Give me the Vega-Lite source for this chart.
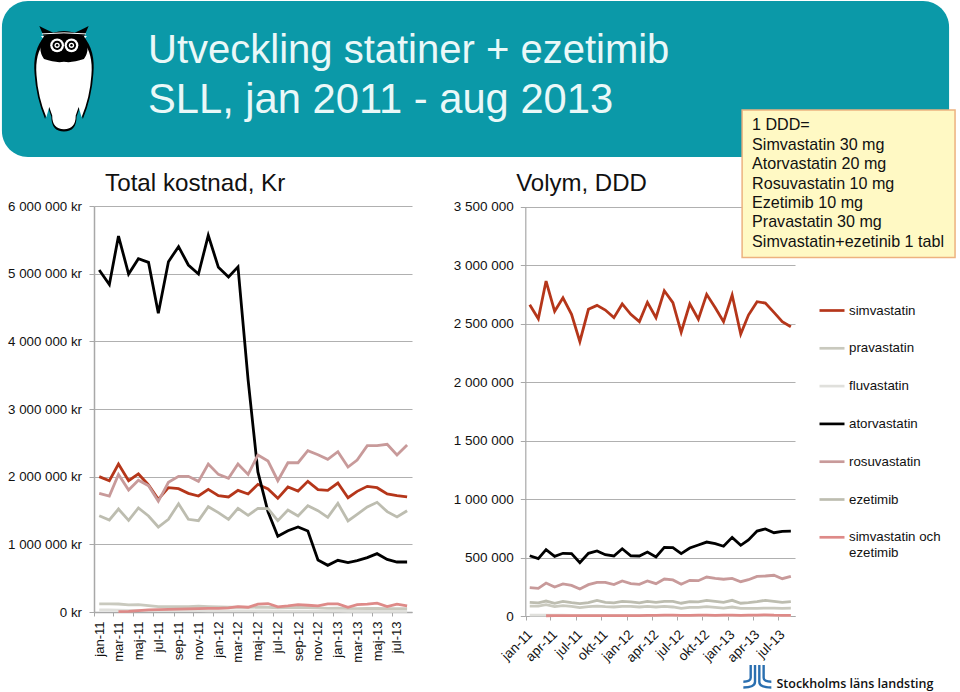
{"$schema":"https://vega.github.io/schema/vega-lite/v6.json","width":960,"height":692,"padding":0,"autosize":{"type":"none"},"background":"white",
"config":{"view":{"stroke":null},"font":"Liberation Sans"},
"title":{"text":"Utveckling statiner + ezetimib","subtitle":"SLL, jan 2011 - aug 2013","anchor":"start","frame":"group","align":"left","baseline":"top","dx":148,"dy":122,"offset":0,"fontSize":40,"fontWeight":"normal","color":"#EAF8F8","lineHeight":49,"font":"Liberation Sans","subtitleFont":"Liberation Sans","subtitleFontSize":41.7,"subtitleColor":"#EAF8F8","subtitleLineHeight":49,"subtitlePadding":9},
"datasets":{
"left":[
{"d":"2011-01-01","s":"simvastatin","v":2000000},{"d":"2011-02-01","s":"simvastatin","v":1940000},{"d":"2011-03-01","s":"simvastatin","v":2187000},{"d":"2011-04-01","s":"simvastatin","v":1940000},{"d":"2011-05-01","s":"simvastatin","v":2040000},{"d":"2011-06-01","s":"simvastatin","v":1877000},{"d":"2011-07-01","s":"simvastatin","v":1665000},{"d":"2011-08-01","s":"simvastatin","v":1837000},{"d":"2011-09-01","s":"simvastatin","v":1822000},{"d":"2011-10-01","s":"simvastatin","v":1754000},{"d":"2011-11-01","s":"simvastatin","v":1714000},{"d":"2011-12-01","s":"simvastatin","v":1813000},{"d":"2012-01-01","s":"simvastatin","v":1720000},{"d":"2012-02-01","s":"simvastatin","v":1700000},{"d":"2012-03-01","s":"simvastatin","v":1798000},{"d":"2012-04-01","s":"simvastatin","v":1744000},{"d":"2012-05-01","s":"simvastatin","v":1887000},{"d":"2012-06-01","s":"simvastatin","v":1818000},{"d":"2012-07-01","s":"simvastatin","v":1680000},{"d":"2012-08-01","s":"simvastatin","v":1847000},{"d":"2012-09-01","s":"simvastatin","v":1788000},{"d":"2012-10-01","s":"simvastatin","v":1931000},{"d":"2012-11-01","s":"simvastatin","v":1808000},{"d":"2012-12-01","s":"simvastatin","v":1798000},{"d":"2013-01-01","s":"simvastatin","v":1906000},{"d":"2013-02-01","s":"simvastatin","v":1689000},{"d":"2013-03-01","s":"simvastatin","v":1783000},{"d":"2013-04-01","s":"simvastatin","v":1857000},{"d":"2013-05-01","s":"simvastatin","v":1837000},{"d":"2013-06-01","s":"simvastatin","v":1744000},{"d":"2013-07-01","s":"simvastatin","v":1720000},{"d":"2013-08-01","s":"simvastatin","v":1700000},
{"d":"2011-01-01","s":"pravastatin","v":120000},{"d":"2011-02-01","s":"pravastatin","v":120000},{"d":"2011-03-01","s":"pravastatin","v":118000},{"d":"2011-04-01","s":"pravastatin","v":105000},{"d":"2011-05-01","s":"pravastatin","v":110000},{"d":"2011-06-01","s":"pravastatin","v":95000},{"d":"2011-07-01","s":"pravastatin","v":80000},{"d":"2011-08-01","s":"pravastatin","v":78000},{"d":"2011-09-01","s":"pravastatin","v":80000},{"d":"2011-10-01","s":"pravastatin","v":78000},{"d":"2011-11-01","s":"pravastatin","v":85000},{"d":"2011-12-01","s":"pravastatin","v":80000},{"d":"2012-01-01","s":"pravastatin","v":75000},{"d":"2012-02-01","s":"pravastatin","v":70000},{"d":"2012-03-01","s":"pravastatin","v":72000},{"d":"2012-04-01","s":"pravastatin","v":68000},{"d":"2012-05-01","s":"pravastatin","v":72000},{"d":"2012-06-01","s":"pravastatin","v":70000},{"d":"2012-07-01","s":"pravastatin","v":60000},{"d":"2012-08-01","s":"pravastatin","v":65000},{"d":"2012-09-01","s":"pravastatin","v":68000},{"d":"2012-10-01","s":"pravastatin","v":65000},{"d":"2012-11-01","s":"pravastatin","v":60000},{"d":"2012-12-01","s":"pravastatin","v":55000},{"d":"2013-01-01","s":"pravastatin","v":58000},{"d":"2013-02-01","s":"pravastatin","v":52000},{"d":"2013-03-01","s":"pravastatin","v":50000},{"d":"2013-04-01","s":"pravastatin","v":55000},{"d":"2013-05-01","s":"pravastatin","v":52000},{"d":"2013-06-01","s":"pravastatin","v":48000},{"d":"2013-07-01","s":"pravastatin","v":50000},{"d":"2013-08-01","s":"pravastatin","v":48000},
{"d":"2011-01-01","s":"fluvastatin","v":30000},{"d":"2011-02-01","s":"fluvastatin","v":30000},{"d":"2011-03-01","s":"fluvastatin","v":28000},{"d":"2011-04-01","s":"fluvastatin","v":25000},{"d":"2011-05-01","s":"fluvastatin","v":25000},{"d":"2011-06-01","s":"fluvastatin","v":22000},{"d":"2011-07-01","s":"fluvastatin","v":20000},{"d":"2011-08-01","s":"fluvastatin","v":20000},{"d":"2011-09-01","s":"fluvastatin","v":20000},{"d":"2011-10-01","s":"fluvastatin","v":20000},{"d":"2011-11-01","s":"fluvastatin","v":20000},{"d":"2011-12-01","s":"fluvastatin","v":18000},{"d":"2012-01-01","s":"fluvastatin","v":18000},{"d":"2012-02-01","s":"fluvastatin","v":18000},{"d":"2012-03-01","s":"fluvastatin","v":16000},{"d":"2012-04-01","s":"fluvastatin","v":16000},{"d":"2012-05-01","s":"fluvastatin","v":15000},{"d":"2012-06-01","s":"fluvastatin","v":15000},{"d":"2012-07-01","s":"fluvastatin","v":14000},{"d":"2012-08-01","s":"fluvastatin","v":14000},{"d":"2012-09-01","s":"fluvastatin","v":14000},{"d":"2012-10-01","s":"fluvastatin","v":13000},{"d":"2012-11-01","s":"fluvastatin","v":13000},{"d":"2012-12-01","s":"fluvastatin","v":12000},{"d":"2013-01-01","s":"fluvastatin","v":12000},{"d":"2013-02-01","s":"fluvastatin","v":11000},{"d":"2013-03-01","s":"fluvastatin","v":11000},{"d":"2013-04-01","s":"fluvastatin","v":10000},{"d":"2013-05-01","s":"fluvastatin","v":10000},{"d":"2013-06-01","s":"fluvastatin","v":10000},{"d":"2013-07-01","s":"fluvastatin","v":10000},{"d":"2013-08-01","s":"fluvastatin","v":10000},
{"d":"2011-01-01","s":"atorvastatin","v":5054000},{"d":"2011-02-01","s":"atorvastatin","v":4840000},{"d":"2011-03-01","s":"atorvastatin","v":5556000},{"d":"2011-04-01","s":"atorvastatin","v":4995000},{"d":"2011-05-01","s":"atorvastatin","v":5220000},{"d":"2011-06-01","s":"atorvastatin","v":5167000},{"d":"2011-07-01","s":"atorvastatin","v":4414000},{"d":"2011-08-01","s":"atorvastatin","v":5177000},{"d":"2011-09-01","s":"atorvastatin","v":5400000},{"d":"2011-10-01","s":"atorvastatin","v":5128000},{"d":"2011-11-01","s":"atorvastatin","v":4995000},{"d":"2011-12-01","s":"atorvastatin","v":5566000},{"d":"2012-01-01","s":"atorvastatin","v":5094000},{"d":"2012-02-01","s":"atorvastatin","v":4950000},{"d":"2012-03-01","s":"atorvastatin","v":5100000},{"d":"2012-04-01","s":"atorvastatin","v":3430000},{"d":"2012-05-01","s":"atorvastatin","v":2070000},{"d":"2012-06-01","s":"atorvastatin","v":1480000},{"d":"2012-07-01","s":"atorvastatin","v":1120000},{"d":"2012-08-01","s":"atorvastatin","v":1200000},{"d":"2012-09-01","s":"atorvastatin","v":1256000},{"d":"2012-10-01","s":"atorvastatin","v":1197000},{"d":"2012-11-01","s":"atorvastatin","v":768000},{"d":"2012-12-01","s":"atorvastatin","v":690000},{"d":"2013-01-01","s":"atorvastatin","v":764000},{"d":"2013-02-01","s":"atorvastatin","v":729000},{"d":"2013-03-01","s":"atorvastatin","v":758000},{"d":"2013-04-01","s":"atorvastatin","v":803000},{"d":"2013-05-01","s":"atorvastatin","v":862000},{"d":"2013-06-01","s":"atorvastatin","v":778000},{"d":"2013-07-01","s":"atorvastatin","v":739000},{"d":"2013-08-01","s":"atorvastatin","v":739000},
{"d":"2011-01-01","s":"rosuvastatin","v":1754000},{"d":"2011-02-01","s":"rosuvastatin","v":1714000},{"d":"2011-03-01","s":"rosuvastatin","v":2034000},{"d":"2011-04-01","s":"rosuvastatin","v":1803000},{"d":"2011-05-01","s":"rosuvastatin","v":1946000},{"d":"2011-06-01","s":"rosuvastatin","v":1867000},{"d":"2011-07-01","s":"rosuvastatin","v":1636000},{"d":"2011-08-01","s":"rosuvastatin","v":1916000},{"d":"2011-09-01","s":"rosuvastatin","v":2005000},{"d":"2011-10-01","s":"rosuvastatin","v":2005000},{"d":"2011-11-01","s":"rosuvastatin","v":1931000},{"d":"2011-12-01","s":"rosuvastatin","v":2187000},{"d":"2012-01-01","s":"rosuvastatin","v":2034000},{"d":"2012-02-01","s":"rosuvastatin","v":1975000},{"d":"2012-03-01","s":"rosuvastatin","v":2187000},{"d":"2012-04-01","s":"rosuvastatin","v":2034000},{"d":"2012-05-01","s":"rosuvastatin","v":2320000},{"d":"2012-06-01","s":"rosuvastatin","v":2230000},{"d":"2012-07-01","s":"rosuvastatin","v":1940000},{"d":"2012-08-01","s":"rosuvastatin","v":2206000},{"d":"2012-09-01","s":"rosuvastatin","v":2206000},{"d":"2012-10-01","s":"rosuvastatin","v":2384000},{"d":"2012-11-01","s":"rosuvastatin","v":2325000},{"d":"2012-12-01","s":"rosuvastatin","v":2256000},{"d":"2013-01-01","s":"rosuvastatin","v":2369000},{"d":"2013-02-01","s":"rosuvastatin","v":2143000},{"d":"2013-03-01","s":"rosuvastatin","v":2246000},{"d":"2013-04-01","s":"rosuvastatin","v":2458000},{"d":"2013-05-01","s":"rosuvastatin","v":2458000},{"d":"2013-06-01","s":"rosuvastatin","v":2478000},{"d":"2013-07-01","s":"rosuvastatin","v":2320000},{"d":"2013-08-01","s":"rosuvastatin","v":2468000},
{"d":"2011-01-01","s":"ezetimib","v":1423000},{"d":"2011-02-01","s":"ezetimib","v":1360000},{"d":"2011-03-01","s":"ezetimib","v":1522000},{"d":"2011-04-01","s":"ezetimib","v":1355000},{"d":"2011-05-01","s":"ezetimib","v":1537000},{"d":"2011-06-01","s":"ezetimib","v":1419000},{"d":"2011-07-01","s":"ezetimib","v":1256000},{"d":"2011-08-01","s":"ezetimib","v":1370000},{"d":"2011-09-01","s":"ezetimib","v":1600000},{"d":"2011-10-01","s":"ezetimib","v":1370000},{"d":"2011-11-01","s":"ezetimib","v":1350000},{"d":"2011-12-01","s":"ezetimib","v":1556000},{"d":"2012-01-01","s":"ezetimib","v":1468000},{"d":"2012-02-01","s":"ezetimib","v":1370000},{"d":"2012-03-01","s":"ezetimib","v":1532000},{"d":"2012-04-01","s":"ezetimib","v":1429000},{"d":"2012-05-01","s":"ezetimib","v":1532000},{"d":"2012-06-01","s":"ezetimib","v":1527000},{"d":"2012-07-01","s":"ezetimib","v":1350000},{"d":"2012-08-01","s":"ezetimib","v":1507000},{"d":"2012-09-01","s":"ezetimib","v":1419000},{"d":"2012-10-01","s":"ezetimib","v":1571000},{"d":"2012-11-01","s":"ezetimib","v":1497000},{"d":"2012-12-01","s":"ezetimib","v":1399000},{"d":"2013-01-01","s":"ezetimib","v":1606000},{"d":"2013-02-01","s":"ezetimib","v":1345000},{"d":"2013-03-01","s":"ezetimib","v":1444000},{"d":"2013-04-01","s":"ezetimib","v":1552000},{"d":"2013-05-01","s":"ezetimib","v":1621000},{"d":"2013-06-01","s":"ezetimib","v":1483000},{"d":"2013-07-01","s":"ezetimib","v":1404000},{"d":"2013-08-01","s":"ezetimib","v":1497000},
{"d":"2011-03-01","s":"simvastatin och ezetimib","v":5000},{"d":"2011-04-01","s":"simvastatin och ezetimib","v":10000},{"d":"2011-05-01","s":"simvastatin och ezetimib","v":20000},{"d":"2011-06-01","s":"simvastatin och ezetimib","v":30000},{"d":"2011-07-01","s":"simvastatin och ezetimib","v":35000},{"d":"2011-08-01","s":"simvastatin och ezetimib","v":40000},{"d":"2011-09-01","s":"simvastatin och ezetimib","v":42000},{"d":"2011-10-01","s":"simvastatin och ezetimib","v":45000},{"d":"2011-11-01","s":"simvastatin och ezetimib","v":50000},{"d":"2011-12-01","s":"simvastatin och ezetimib","v":55000},{"d":"2012-01-01","s":"simvastatin och ezetimib","v":55000},{"d":"2012-02-01","s":"simvastatin och ezetimib","v":60000},{"d":"2012-03-01","s":"simvastatin och ezetimib","v":80000},{"d":"2012-04-01","s":"simvastatin och ezetimib","v":70000},{"d":"2012-05-01","s":"simvastatin och ezetimib","v":115000},{"d":"2012-06-01","s":"simvastatin och ezetimib","v":125000},{"d":"2012-07-01","s":"simvastatin och ezetimib","v":75000},{"d":"2012-08-01","s":"simvastatin och ezetimib","v":90000},{"d":"2012-09-01","s":"simvastatin och ezetimib","v":110000},{"d":"2012-10-01","s":"simvastatin och ezetimib","v":100000},{"d":"2012-11-01","s":"simvastatin och ezetimib","v":90000},{"d":"2012-12-01","s":"simvastatin och ezetimib","v":120000},{"d":"2013-01-01","s":"simvastatin och ezetimib","v":120000},{"d":"2013-02-01","s":"simvastatin och ezetimib","v":70000},{"d":"2013-03-01","s":"simvastatin och ezetimib","v":110000},{"d":"2013-04-01","s":"simvastatin och ezetimib","v":115000},{"d":"2013-05-01","s":"simvastatin och ezetimib","v":130000},{"d":"2013-06-01","s":"simvastatin och ezetimib","v":80000},{"d":"2013-07-01","s":"simvastatin och ezetimib","v":115000},{"d":"2013-08-01","s":"simvastatin och ezetimib","v":90000}
],
"right":[
{"d":"2011-01-01","s":"simvastatin","v":2661000},{"d":"2011-02-01","s":"simvastatin","v":2541000},{"d":"2011-03-01","s":"simvastatin","v":2863000},{"d":"2011-04-01","s":"simvastatin","v":2604000},{"d":"2011-05-01","s":"simvastatin","v":2720000},{"d":"2011-06-01","s":"simvastatin","v":2578000},{"d":"2011-07-01","s":"simvastatin","v":2345000},{"d":"2011-08-01","s":"simvastatin","v":2621000},{"d":"2011-09-01","s":"simvastatin","v":2655000},{"d":"2011-10-01","s":"simvastatin","v":2615000},{"d":"2011-11-01","s":"simvastatin","v":2550000},{"d":"2011-12-01","s":"simvastatin","v":2667000},{"d":"2012-01-01","s":"simvastatin","v":2578000},{"d":"2012-02-01","s":"simvastatin","v":2516000},{"d":"2012-03-01","s":"simvastatin","v":2681000},{"d":"2012-04-01","s":"simvastatin","v":2550000},{"d":"2012-05-01","s":"simvastatin","v":2780000},{"d":"2012-06-01","s":"simvastatin","v":2678000},{"d":"2012-07-01","s":"simvastatin","v":2425000},{"d":"2012-08-01","s":"simvastatin","v":2669000},{"d":"2012-09-01","s":"simvastatin","v":2536000},{"d":"2012-10-01","s":"simvastatin","v":2749000},{"d":"2012-11-01","s":"simvastatin","v":2635000},{"d":"2012-12-01","s":"simvastatin","v":2516000},{"d":"2013-01-01","s":"simvastatin","v":2743000},{"d":"2013-02-01","s":"simvastatin","v":2410000},{"d":"2013-03-01","s":"simvastatin","v":2572000},{"d":"2013-04-01","s":"simvastatin","v":2686000},{"d":"2013-05-01","s":"simvastatin","v":2675000},{"d":"2013-06-01","s":"simvastatin","v":2595000},{"d":"2013-07-01","s":"simvastatin","v":2516000},{"d":"2013-08-01","s":"simvastatin","v":2472000},
{"d":"2011-01-01","s":"pravastatin","v":85000},{"d":"2011-02-01","s":"pravastatin","v":85000},{"d":"2011-03-01","s":"pravastatin","v":97000},{"d":"2011-04-01","s":"pravastatin","v":80000},{"d":"2011-05-01","s":"pravastatin","v":88000},{"d":"2011-06-01","s":"pravastatin","v":83000},{"d":"2011-07-01","s":"pravastatin","v":71000},{"d":"2011-08-01","s":"pravastatin","v":80000},{"d":"2011-09-01","s":"pravastatin","v":85000},{"d":"2011-10-01","s":"pravastatin","v":80000},{"d":"2011-11-01","s":"pravastatin","v":77000},{"d":"2011-12-01","s":"pravastatin","v":83000},{"d":"2012-01-01","s":"pravastatin","v":83000},{"d":"2012-02-01","s":"pravastatin","v":77000},{"d":"2012-03-01","s":"pravastatin","v":83000},{"d":"2012-04-01","s":"pravastatin","v":77000},{"d":"2012-05-01","s":"pravastatin","v":83000},{"d":"2012-06-01","s":"pravastatin","v":77000},{"d":"2012-07-01","s":"pravastatin","v":66000},{"d":"2012-08-01","s":"pravastatin","v":74000},{"d":"2012-09-01","s":"pravastatin","v":74000},{"d":"2012-10-01","s":"pravastatin","v":80000},{"d":"2012-11-01","s":"pravastatin","v":74000},{"d":"2012-12-01","s":"pravastatin","v":68000},{"d":"2013-01-01","s":"pravastatin","v":77000},{"d":"2013-02-01","s":"pravastatin","v":66000},{"d":"2013-03-01","s":"pravastatin","v":66000},{"d":"2013-04-01","s":"pravastatin","v":66000},{"d":"2013-05-01","s":"pravastatin","v":68000},{"d":"2013-06-01","s":"pravastatin","v":68000},{"d":"2013-07-01","s":"pravastatin","v":66000},{"d":"2013-08-01","s":"pravastatin","v":68000},
{"d":"2011-01-01","s":"fluvastatin","v":8000},{"d":"2011-02-01","s":"fluvastatin","v":8000},{"d":"2011-03-01","s":"fluvastatin","v":7000},{"d":"2011-04-01","s":"fluvastatin","v":7000},{"d":"2011-05-01","s":"fluvastatin","v":7000},{"d":"2011-06-01","s":"fluvastatin","v":6000},{"d":"2011-07-01","s":"fluvastatin","v":6000},{"d":"2011-08-01","s":"fluvastatin","v":6000},{"d":"2011-09-01","s":"fluvastatin","v":6000},{"d":"2011-10-01","s":"fluvastatin","v":5000},{"d":"2011-11-01","s":"fluvastatin","v":5000},{"d":"2011-12-01","s":"fluvastatin","v":5000},{"d":"2012-01-01","s":"fluvastatin","v":5000},{"d":"2012-02-01","s":"fluvastatin","v":5000},{"d":"2012-03-01","s":"fluvastatin","v":5000},{"d":"2012-04-01","s":"fluvastatin","v":4000},{"d":"2012-05-01","s":"fluvastatin","v":4000},{"d":"2012-06-01","s":"fluvastatin","v":4000},{"d":"2012-07-01","s":"fluvastatin","v":4000},{"d":"2012-08-01","s":"fluvastatin","v":4000},{"d":"2012-09-01","s":"fluvastatin","v":4000},{"d":"2012-10-01","s":"fluvastatin","v":4000},{"d":"2012-11-01","s":"fluvastatin","v":3000},{"d":"2012-12-01","s":"fluvastatin","v":3000},{"d":"2013-01-01","s":"fluvastatin","v":3000},{"d":"2013-02-01","s":"fluvastatin","v":3000},{"d":"2013-03-01","s":"fluvastatin","v":3000},{"d":"2013-04-01","s":"fluvastatin","v":3000},{"d":"2013-05-01","s":"fluvastatin","v":3000},{"d":"2013-06-01","s":"fluvastatin","v":3000},{"d":"2013-07-01","s":"fluvastatin","v":3000},{"d":"2013-08-01","s":"fluvastatin","v":3000},
{"d":"2011-01-01","s":"atorvastatin","v":515000},{"d":"2011-02-01","s":"atorvastatin","v":490000},{"d":"2011-03-01","s":"atorvastatin","v":567000},{"d":"2011-04-01","s":"atorvastatin","v":510000},{"d":"2011-05-01","s":"atorvastatin","v":536000},{"d":"2011-06-01","s":"atorvastatin","v":533000},{"d":"2011-07-01","s":"atorvastatin","v":456000},{"d":"2011-08-01","s":"atorvastatin","v":536000},{"d":"2011-09-01","s":"atorvastatin","v":556000},{"d":"2011-10-01","s":"atorvastatin","v":524000},{"d":"2011-11-01","s":"atorvastatin","v":513000},{"d":"2011-12-01","s":"atorvastatin","v":575000},{"d":"2012-01-01","s":"atorvastatin","v":515000},{"d":"2012-02-01","s":"atorvastatin","v":513000},{"d":"2012-03-01","s":"atorvastatin","v":547000},{"d":"2012-04-01","s":"atorvastatin","v":504000},{"d":"2012-05-01","s":"atorvastatin","v":587000},{"d":"2012-06-01","s":"atorvastatin","v":585000},{"d":"2012-07-01","s":"atorvastatin","v":533000},{"d":"2012-08-01","s":"atorvastatin","v":581000},{"d":"2012-09-01","s":"atorvastatin","v":607000},{"d":"2012-10-01","s":"atorvastatin","v":632000},{"d":"2012-11-01","s":"atorvastatin","v":618000},{"d":"2012-12-01","s":"atorvastatin","v":596000},{"d":"2013-01-01","s":"atorvastatin","v":672000},{"d":"2013-02-01","s":"atorvastatin","v":604000},{"d":"2013-03-01","s":"atorvastatin","v":650000},{"d":"2013-04-01","s":"atorvastatin","v":726000},{"d":"2013-05-01","s":"atorvastatin","v":744000},{"d":"2013-06-01","s":"atorvastatin","v":712000},{"d":"2013-07-01","s":"atorvastatin","v":724000},{"d":"2013-08-01","s":"atorvastatin","v":726000},
{"d":"2011-01-01","s":"rosuvastatin","v":242000},{"d":"2011-02-01","s":"rosuvastatin","v":236000},{"d":"2011-03-01","s":"rosuvastatin","v":282000},{"d":"2011-04-01","s":"rosuvastatin","v":248000},{"d":"2011-05-01","s":"rosuvastatin","v":274000},{"d":"2011-06-01","s":"rosuvastatin","v":262000},{"d":"2011-07-01","s":"rosuvastatin","v":231000},{"d":"2011-08-01","s":"rosuvastatin","v":268000},{"d":"2011-09-01","s":"rosuvastatin","v":288000},{"d":"2011-10-01","s":"rosuvastatin","v":288000},{"d":"2011-11-01","s":"rosuvastatin","v":268000},{"d":"2011-12-01","s":"rosuvastatin","v":299000},{"d":"2012-01-01","s":"rosuvastatin","v":276000},{"d":"2012-02-01","s":"rosuvastatin","v":271000},{"d":"2012-03-01","s":"rosuvastatin","v":299000},{"d":"2012-04-01","s":"rosuvastatin","v":276000},{"d":"2012-05-01","s":"rosuvastatin","v":316000},{"d":"2012-06-01","s":"rosuvastatin","v":308000},{"d":"2012-07-01","s":"rosuvastatin","v":271000},{"d":"2012-08-01","s":"rosuvastatin","v":305000},{"d":"2012-09-01","s":"rosuvastatin","v":302000},{"d":"2012-10-01","s":"rosuvastatin","v":333000},{"d":"2012-11-01","s":"rosuvastatin","v":322000},{"d":"2012-12-01","s":"rosuvastatin","v":314000},{"d":"2013-01-01","s":"rosuvastatin","v":322000},{"d":"2013-02-01","s":"rosuvastatin","v":293000},{"d":"2013-03-01","s":"rosuvastatin","v":310000},{"d":"2013-04-01","s":"rosuvastatin","v":339000},{"d":"2013-05-01","s":"rosuvastatin","v":342000},{"d":"2013-06-01","s":"rosuvastatin","v":348000},{"d":"2013-07-01","s":"rosuvastatin","v":319000},{"d":"2013-08-01","s":"rosuvastatin","v":339000},
{"d":"2011-01-01","s":"ezetimib","v":117000},{"d":"2011-02-01","s":"ezetimib","v":112000},{"d":"2011-03-01","s":"ezetimib","v":128000},{"d":"2011-04-01","s":"ezetimib","v":109000},{"d":"2011-05-01","s":"ezetimib","v":125000},{"d":"2011-06-01","s":"ezetimib","v":114000},{"d":"2011-07-01","s":"ezetimib","v":106000},{"d":"2011-08-01","s":"ezetimib","v":114000},{"d":"2011-09-01","s":"ezetimib","v":134000},{"d":"2011-10-01","s":"ezetimib","v":117000},{"d":"2011-11-01","s":"ezetimib","v":112000},{"d":"2011-12-01","s":"ezetimib","v":125000},{"d":"2012-01-01","s":"ezetimib","v":120000},{"d":"2012-02-01","s":"ezetimib","v":112000},{"d":"2012-03-01","s":"ezetimib","v":125000},{"d":"2012-04-01","s":"ezetimib","v":117000},{"d":"2012-05-01","s":"ezetimib","v":125000},{"d":"2012-06-01","s":"ezetimib","v":125000},{"d":"2012-07-01","s":"ezetimib","v":109000},{"d":"2012-08-01","s":"ezetimib","v":123000},{"d":"2012-09-01","s":"ezetimib","v":120000},{"d":"2012-10-01","s":"ezetimib","v":134000},{"d":"2012-11-01","s":"ezetimib","v":125000},{"d":"2012-12-01","s":"ezetimib","v":117000},{"d":"2013-01-01","s":"ezetimib","v":134000},{"d":"2013-02-01","s":"ezetimib","v":109000},{"d":"2013-03-01","s":"ezetimib","v":114000},{"d":"2013-04-01","s":"ezetimib","v":123000},{"d":"2013-05-01","s":"ezetimib","v":134000},{"d":"2013-06-01","s":"ezetimib","v":125000},{"d":"2013-07-01","s":"ezetimib","v":117000},{"d":"2013-08-01","s":"ezetimib","v":123000},
{"d":"2011-03-01","s":"simvastatin och ezetimib","v":2000},{"d":"2011-04-01","s":"simvastatin och ezetimib","v":3000},{"d":"2011-05-01","s":"simvastatin och ezetimib","v":3000},{"d":"2011-06-01","s":"simvastatin och ezetimib","v":3000},{"d":"2011-07-01","s":"simvastatin och ezetimib","v":3000},{"d":"2011-08-01","s":"simvastatin och ezetimib","v":3000},{"d":"2011-09-01","s":"simvastatin och ezetimib","v":4000},{"d":"2011-10-01","s":"simvastatin och ezetimib","v":4000},{"d":"2011-11-01","s":"simvastatin och ezetimib","v":4000},{"d":"2011-12-01","s":"simvastatin och ezetimib","v":4000},{"d":"2012-01-01","s":"simvastatin och ezetimib","v":4000},{"d":"2012-02-01","s":"simvastatin och ezetimib","v":4000},{"d":"2012-03-01","s":"simvastatin och ezetimib","v":6000},{"d":"2012-04-01","s":"simvastatin och ezetimib","v":6000},{"d":"2012-05-01","s":"simvastatin och ezetimib","v":7000},{"d":"2012-06-01","s":"simvastatin och ezetimib","v":7000},{"d":"2012-07-01","s":"simvastatin och ezetimib","v":6000},{"d":"2012-08-01","s":"simvastatin och ezetimib","v":6000},{"d":"2012-09-01","s":"simvastatin och ezetimib","v":7000},{"d":"2012-10-01","s":"simvastatin och ezetimib","v":7000},{"d":"2012-11-01","s":"simvastatin och ezetimib","v":6000},{"d":"2012-12-01","s":"simvastatin och ezetimib","v":7000},{"d":"2013-01-01","s":"simvastatin och ezetimib","v":7000},{"d":"2013-02-01","s":"simvastatin och ezetimib","v":6000},{"d":"2013-03-01","s":"simvastatin och ezetimib","v":7000},{"d":"2013-04-01","s":"simvastatin och ezetimib","v":7000},{"d":"2013-05-01","s":"simvastatin och ezetimib","v":10000},{"d":"2013-06-01","s":"simvastatin och ezetimib","v":7000},{"d":"2013-07-01","s":"simvastatin och ezetimib","v":6000},{"d":"2013-08-01","s":"simvastatin och ezetimib","v":6000}
]},
"layer":[
{"encoding":{
"x":{"field":"d","type":"temporal","scale":{"domain":["2010-12-16","2013-08-16"],"range":[94,412]},"axis":{"orient":"bottom","offset":-80,"title":null,"grid":false,"tickCount":{"interval":"month","step":2},"labelExpr":"['jan','feb','mar','apr','maj','jun','jul','aug','sep','okt','nov','dec'][month(datum.value)]+'-'+timeFormat(datum.value,'%y')","labelAngle":270,"labelAlign":"right","labelBaseline":"middle","labelFontSize":13,"labelColor":"#111111","labelFlush":false,"labelOverlap":false,"labelBound":false,"labelPadding":5,"tickOffset":-5,"labelOffset":5,"tickSize":4,"domainColor":"#A8A8A8","tickColor":"#A8A8A8","domainWidth":1.5}},
"y":{"field":"v","type":"quantitative","scale":{"domain":[0,6000000],"range":[612,206],"nice":false,"zero":false},"axis":{"orient":"left","offset":-94,"title":null,"grid":true,"gridColor":"#B0B0B0","gridWidth":1.2,"values":[0,1000000,2000000,3000000,4000000,5000000,6000000],"labelExpr":"join(split(format(datum.value,','),','),' ')+' kr'","labelFontSize":13.3,"labelColor":"#111111","labelPadding":7.5,"tickSize":5,"domainColor":"#A8A8A8","tickColor":"#A8A8A8","domainWidth":1.5}}},
"layer":[
{"data":{"values":[{"d":"2010-03-09","d2":"2018-02-16","v":9030000,"v2":6724000}]},"mark":{"type":"rect","color":"#0B99A8","cornerRadius":26},"encoding":{"x2":{"field":"d2"},"y2":{"field":"v2"}}},
{"data":{"values":[{"d":"2010-09-15","v":7876000}]},"mark":{"type":"point","filled":true,"opacity":1,"color":"#000000","size":11025,"shape":"M-0.47,-1.01 Q-0.3,-0.92 -0.2,-0.88 Q0,-0.95 0.2,-0.88 Q0.3,-0.92 0.47,-1.01 L0.38,-0.8 Q0.6,-0.55 0.56,-0.1 Q0.53,0.35 0.36,0.76 L0.3,0.55 L0.24,0.72 Q0.24,1 0,1 Q-0.24,1 -0.24,0.72 L-0.3,0.55 L-0.36,0.76 Q-0.53,0.35 -0.56,-0.1 Q-0.6,-0.55 -0.38,-0.8 Z"}},
{"data":{"values":[{"d":"2010-09-15","v":7860000}]},"mark":{"type":"point","filled":true,"opacity":1,"color":"#FFFFFF","size":9600,"shape":"M-0.47,-0.9 Q-0.3,-0.92 -0.2,-0.88 Q0,-0.95 0.2,-0.88 Q0.3,-0.92 0.47,-0.9 L0.38,-0.8 Q0.6,-0.55 0.56,-0.1 Q0.53,0.35 0.36,0.76 L0.3,0.55 L0.24,0.72 Q0.24,1 0,1 Q-0.24,1 -0.24,0.72 L-0.3,0.55 L-0.36,0.76 Q-0.53,0.35 -0.56,-0.1 Q-0.6,-0.55 -0.38,-0.8 Z"}},
{"data":{"values":[{"d":"2010-09-15","v":7876000}]},"mark":{"type":"point","filled":true,"opacity":1,"color":"#000000","size":11025,"shape":"M-0.38,-0.82 Q0,-0.98 0.38,-0.82 Q0.52,-0.58 0.38,-0.38 Q0.15,-0.3 0,-0.33 Q-0.15,-0.3 -0.38,-0.38 Q-0.52,-0.58 -0.38,-0.82 Z"}},
{"data":{"values":[{"d":"2010-09-15","v":7876000}]},"mark":{"type":"point","filled":false,"opacity":1,"color":"#FFFFFF","strokeWidth":1,"size":11025,"shape":"M-0.42,-0.86 Q0,-0.9 0.42,-0.86"}},
{"data":{"values":[{"d":"2010-08-25","v":8375000},{"d":"2010-10-08","v":8375000}]},"mark":{"type":"point","filled":true,"opacity":1,"color":"#FFFFFF","size":190}},
{"data":{"values":[{"d":"2010-08-25","v":8375000},{"d":"2010-10-08","v":8375000}]},"mark":{"type":"point","filled":true,"opacity":1,"color":"#000000","size":85}},
{"data":{"values":[{"d":"2010-08-25","v":8375000},{"d":"2010-10-08","v":8375000}]},"mark":{"type":"point","filled":true,"opacity":1,"color":"#FFFFFF","size":28}},
{"data":{"values":[{"d":"2010-08-25","v":8375000},{"d":"2010-10-08","v":8375000}]},"mark":{"type":"point","filled":true,"opacity":1,"color":"#000000","size":6}},
{"data":{"values":[{"d":"2011-01-19","v":6325000,"t":"Total kostnad, Kr"}]},"mark":{"type":"text","align":"left","baseline":"middle","fontSize":24.2,"color":"#111111"},"encoding":{"text":{"field":"t"}}},
{"data":{"name":"left"},"mark":{"type":"line","strokeWidth":2.8,"interpolate":"linear"},"encoding":{
"color":{"field":"s","type":"nominal","scale":{"domain":["simvastatin","pravastatin","fluvastatin","atorvastatin","rosuvastatin","ezetimib","simvastatin och ezetimib"],"range":["#B5361A","#C9C9BE","#E0E0DC","#000000","#C89A9A","#BDBDB0","#DE8A88"]},"legend":{"orient":"none","legendX":818,"legendY":296.5,"title":null,"padding":0,"symbolType":"stroke","symbolSize":625,"symbolStrokeWidth":2.7,"labelFontSize":13.3,"labelColor":"#111111","labelOffset":3,"labelLimit":200,"rowPadding":16.8,"labelExpr":"datum.label=='simvastatin och ezetimib'?['simvastatin och','ezetimib']:datum.label"}}}}
]},
{"encoding":{
"x":{"field":"d","type":"temporal","scale":{"domain":["2010-12-16","2013-08-16"],"range":[525.3,795]},"axis":{"orient":"bottom","offset":-76,"title":null,"grid":false,"tickCount":{"interval":"month","step":3},"labelExpr":"['jan','feb','mar','apr','maj','jun','jul','aug','sep','okt','nov','dec'][month(datum.value)]+'-'+timeFormat(datum.value,'%y')","labelAngle":-45,"labelAlign":"right","labelBaseline":"middle","labelFontSize":13.5,"labelColor":"#111111","labelFlush":false,"labelOverlap":false,"labelBound":false,"labelPadding":12,"tickOffset":-4.2,"labelOffset":4.2,"tickSize":4,"domainColor":"#A8A8A8","tickColor":"#A8A8A8","domainWidth":1.2}},
"y":{"field":"v","type":"quantitative","scale":{"domain":[0,3500000],"range":[616,206.5],"nice":false,"zero":false},"axis":{"orient":"left","offset":-525.3,"title":null,"grid":true,"gridColor":"#B0B0B0","gridWidth":1.2,"values":[0,500000,1000000,1500000,2000000,2500000,3000000,3500000],"labelExpr":"join(split(format(datum.value,','),','),' ')","labelFontSize":13.5,"labelColor":"#111111","labelPadding":7,"tickSize":5,"domainColor":"#A8A8A8","tickColor":"#A8A8A8","domainWidth":1.2}}},
"layer":[
{"data":{"values":[{"d":"2010-11-13","v":3692000,"t":"Volym, DDD"}]},"mark":{"type":"text","align":"left","baseline":"middle","fontSize":24,"color":"#111111"},"encoding":{"text":{"field":"t"}}},
{"data":{"name":"right"},"mark":{"type":"line","strokeWidth":2.8,"interpolate":"linear"},"encoding":{
"color":{"field":"s","type":"nominal","scale":{"domain":["simvastatin","pravastatin","fluvastatin","atorvastatin","rosuvastatin","ezetimib","simvastatin och ezetimib"],"range":["#B5361A","#C9C9BE","#E0E0DC","#000000","#C89A9A","#BDBDB0","#DE8A88"]},"legend":null}}},
{"data":{"values":[{"d":"2013-02-06","d2":"2015-03-17","v":4325000,"v2":3064000}]},"mark":{"type":"rect","fill":"#FFF9C4","stroke":"#EDB27F","strokeWidth":1.5},"encoding":{"x2":{"field":"d2"},"y2":{"field":"v2"}}},
{"data":{"values":[{"d":"2013-03-14","v":4197000,"t":"1 DDD="},{"d":"2013-03-14","v":4028000,"t":"Simvastatin 30 mg"},{"d":"2013-03-14","v":3863000,"t":"Atorvastatin 20 mg"},{"d":"2013-03-14","v":3695000,"t":"Rosuvastatin 10 mg"},{"d":"2013-03-14","v":3530000,"t":"Ezetimib 10 mg"},{"d":"2013-03-14","v":3365000,"t":"Pravastatin 30 mg"},{"d":"2013-03-14","v":3199000,"t":"Simvastatin+ezetinib 1 tabl"}]},"mark":{"type":"text","align":"left","baseline":"middle","fontSize":16.1,"color":"#111111"},"encoding":{"text":{"field":"t"}}},
{"data":{"values":[{"d":"2013-04-02","v":-518800}]},"mark":{"type":"point","filled":false,"opacity":1,"color":"#2A6FB0","strokeWidth":2.4,"size":544,"shape":"M-0.57,-1 L-0.57,0.1 Q-0.57,0.43 -1.2,0.43 M-0.2,-1 L-0.2,0.43 Q-0.2,0.92 -1.2,0.92 M0.17,-1 L0.17,0.43 Q0.17,0.92 1.2,0.92 M0.54,-1 L0.54,0.1 Q0.54,0.43 1.2,0.43"}},
{"data":{"values":[{"d":"2013-06-10","v":-580000,"t":"Stockholms läns landsting"}]},"mark":{"type":"text","align":"left","baseline":"middle","fontSize":12.5,"fontWeight":600,"font":"Open Sans","color":"#111111"},"encoding":{"text":{"field":"t"}}}
]}
],
"resolve":{"scale":{"x":"independent","y":"independent"},"axis":{"x":"independent","y":"independent"}}}
